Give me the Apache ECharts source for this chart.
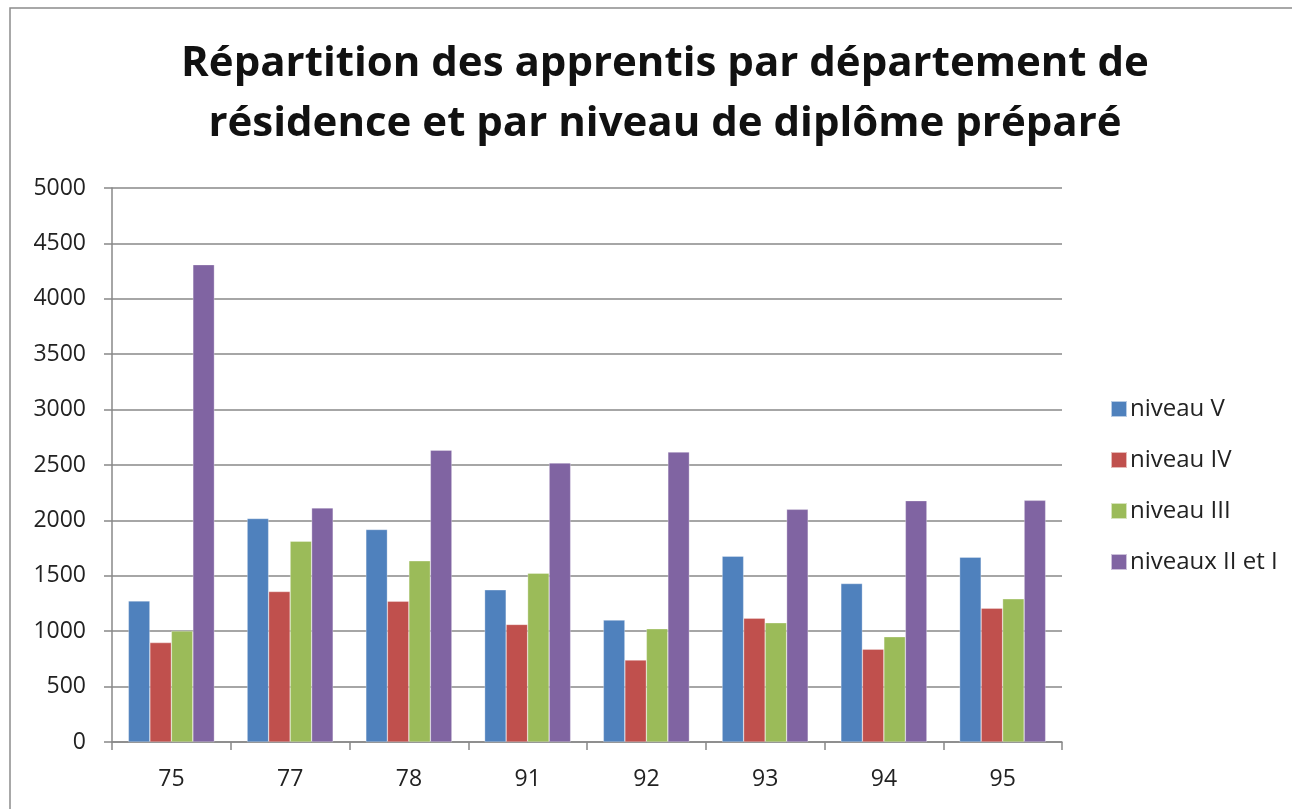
<!DOCTYPE html>
<html>
<head>
<meta charset="utf-8">
<script src="https://cdn.jsdelivr.net/npm/echarts@6/dist/echarts.min.js"></script>
<style>
  html, body { margin: 0; padding: 0; background: #fff; }
  #chart { width: 1292px; height: 809px; }
</style>
</head>
<body>
<div id="chart"></div>
<script>
// departements
const departements = ['75', '77', '78', '91', '92', '93', '94', '95'];
// apprentis par niveau
const niveauV = [1273, 2017, 1918, 1373, 1100, 1677, 1430, 1668];
const niveauIV = [897, 1358, 1270, 1061, 739, 1118, 838, 1208];
const niveauIII = [1002, 1812, 1635, 1523, 1022, 1076, 950, 1292];
const niveauxIIetI = [4308, 2113, 2634, 2518, 2617, 2100, 2178, 2181];
const yTicks = [0, 500, 1000, 1500, 2000, 2500, 3000, 3500, 4000, 4500, 5000];

const seriesNames = ['niveau V', 'niveau IV', 'niveau III', 'niveaux II et I'];
const seriesData = [niveauV, niveauIV, niveauIII, niveauxIIetI];
const colors = ['#4F81BD', '#C0504D', '#9BBB59', '#8064A2'];

const font = '"Open Sans", "DejaVu Sans", sans-serif';

const chart = echarts.init(document.getElementById('chart'));
chart.setOption({
  animation: false,
  color: colors,
  title: {
    text: 'Répartition des apprentis par département de\nrésidence et par niveau de diplôme préparé',
    left: 660,
    top: 29,
    textAlign: 'center',
    textStyle: {
      fontFamily: font,
      fontWeight: 'bold',
      fontSize: 42,
      lineHeight: 60,
      color: '#111'
    }
  },
  graphic: [{
    type: 'rect',
    shape: { x: 10, y: 8, width: 1300, height: 820 },
    style: { fill: 'none', stroke: '#8c8c8c', lineWidth: 1.5 },
    silent: true
  }],
  legend: {
    orient: 'vertical',
    left: 1105,
    top: 392,
    itemWidth: 16,
    itemHeight: 16,
    itemGap: 27,
    icon: 'rect',
    data: seriesNames,
    textStyle: { fontFamily: font, fontSize: 24, color: '#222', padding: [0, 0, 0, -2] }
  },
  grid: {
    left: 112,
    top: 188,
    width: 950,
    height: 554,
    containLabel: false
  },
  xAxis: {
    type: 'category',
    data: departements,
    axisLine: { lineStyle: { color: '#888', width: 1.5 } },
    axisTick: { show: true, alignWithLabel: false, length: 8, lineStyle: { color: '#888', width: 1.5 } },
    axisLabel: { fontFamily: font, fontSize: 23, color: '#222', margin: 26 }
  },
  yAxis: {
    type: 'value',
    min: yTicks[0],
    max: yTicks[yTicks.length - 1],
    interval: 500,
    axisLine: { show: true, lineStyle: { color: '#888', width: 1.5 } },
    axisTick: { show: true, length: 8, lineStyle: { color: '#888', width: 1.5 } },
    axisLabel: { fontFamily: font, fontSize: 23, color: '#222', margin: 26, formatter: v => String(v) },
    splitLine: { lineStyle: { color: '#888', width: 1.5 } }
  },
  series: seriesData.map((d, i) => ({
    name: seriesNames[i],
    type: 'bar',
    data: d,
    barWidth: 21.5,
    barGap: '0%',
    itemStyle: { color: colors[i], borderColor: 'rgba(255,255,255,0.6)', borderWidth: 0.5 }
  }))
});
</script>
</body>
</html>
